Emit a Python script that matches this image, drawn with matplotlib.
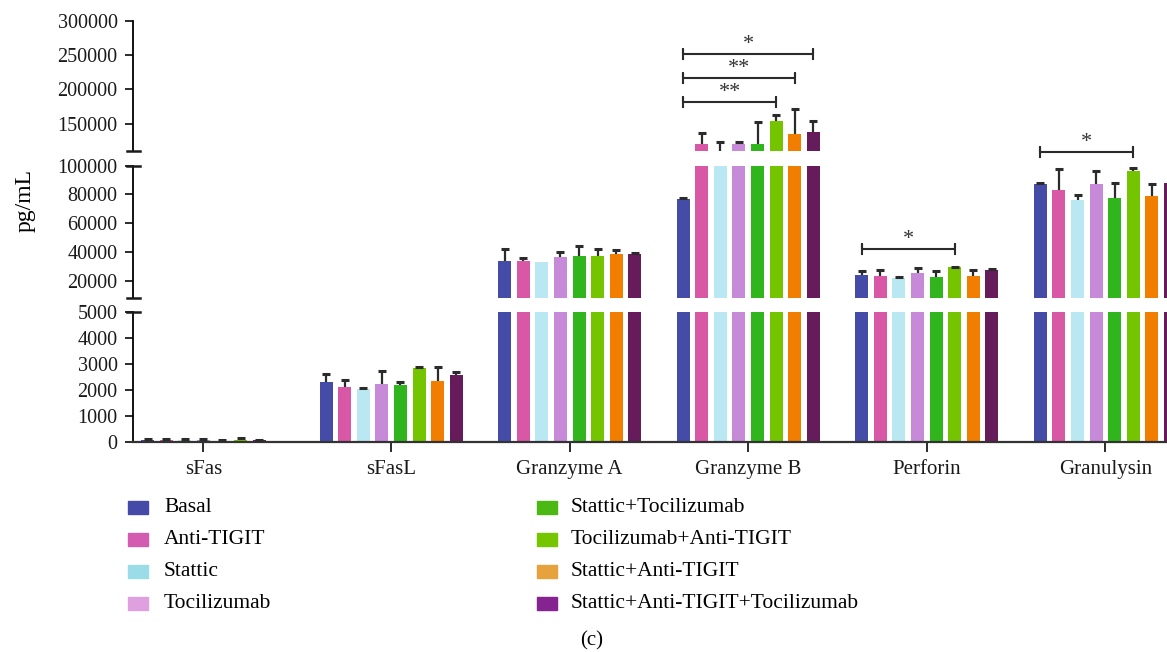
import numpy as np
import matplotlib.pyplot as plt
from matplotlib.patches import Rectangle
from matplotlib.lines import Line2D

plt.rcParams['font.family'] = ['Liberation Serif', 'DejaVu Serif']

cytokines = ['sFas', 'sFasL', 'Granzyme A', 'Granzyme B', 'Perforin', 'Granulysin']
groups = ['Basal', 'Anti-TIGIT', 'Stattic', 'Tocilizumab', 'Stattic+Tocilizumab',
          'Tocilizumab+Anti-TIGIT', 'Stattic+Anti-TIGIT', 'Stattic+Anti-TIGIT+Tocilizumab']

# means (pg/mL), same order as cytokines
basal = [75, 2310, 33700, 77000, 24000, 87300]
anti_tigit = [70, 2120, 33700, 121000, 23300, 83100]
stattic = [70, 2040, 33000, 109000, 21900, 76100]
tocilizumab = [75, 2230, 36500, 121000, 25400, 87300]
stattic_toci = [15, 2190, 37200, 121000, 22600, 77500]
toci_anti = [80, 2850, 37200, 154000, 29500, 96300]
stattic_anti = [np.nan, 2350, 38600, 135000, 23300, 78900]
triple = [65, 2580, 38600, 138000, 27400, 88000]

# upper error bars
basal_sd = [40, 320, 8000, 600, 3000, 500]
anti_tigit_sd = [30, 280, 2300, 15000, 4300, 14400]
stattic_sd = [30, 25, np.nan, 15000, 300, 3700]
tocilizumab_sd = [30, 500, 3500, 3000, 3600, 9200]
stattic_toci_sd = [60, 130, 7200, 32000, 4400, 10700]
toci_anti_sd = [85, 50, 4600, 8700, 300, 2100]
stattic_anti_sd = [np.nan, 540, 2500, 36000, 4300, 8600]
triple_sd = [20, 115, 300, 16000, 900, 1400]

means = [basal, anti_tigit, stattic, tocilizumab, stattic_toci, toci_anti, stattic_anti, triple]
sds = [basal_sd, anti_tigit_sd, stattic_sd, tocilizumab_sd, stattic_toci_sd, toci_anti_sd,
       stattic_anti_sd, triple_sd]

bar_colors = ['#454CA8', '#D858A6', '#BAE8F2', '#C78AD9', '#30B61C', '#74C400', '#F27E00', '#661B5A']
legend_colors = ['#4549A8', '#D45CB0', '#9ADDE9', '#DFA0DF', '#4BB814', '#75C500', '#E6A23C', '#852390']

# significance: (cytokine, group a, group b, label, bracket height)
sig = [('Granzyme B', 0, 7, '*', 252000),
       ('Granzyme B', 0, 6, '**', 217000),
       ('Granzyme B', 0, 5, '**', 182000),
       ('Perforin', 0, 5, '*', 42300),
       ('Granulysin', 0, 5, '*', 109500)]

W, H = 1167, 652
fig = plt.figure(figsize=(W / 100, H / 100), dpi=100)

# bar layout (units = one bar step)
G = 9.6
px_unit = 18.6
x_left = -0.78
x_right = 57
ax_w = (x_right - x_left) * px_unit

xpos = {}
for i, c in enumerate(cytokines):
    k = 0
    for j in range(len(groups)):
        if not np.isnan(means[j][i]):
            xpos[(i, j)] = i * G + k
            k += 1
centers = []
for i in range(len(cytokines)):
    xs = [xpos[(i, j)] for j in range(len(groups)) if (i, j) in xpos]
    centers.append((min(xs) + max(xs)) / 2)


def frac_axes(top_px, bot_px):
    return [133 / W, 1 - bot_px / H, ax_w / W, (bot_px - top_px) / H]


ax_top = fig.add_axes(frac_axes(20.7, 151.2))
ax_mid = fig.add_axes(frac_axes(165.7, 297.9))
ax_bot = fig.add_axes(frac_axes(312, 442))
ax_top.set_ylim(110000, 300000)
ax_mid.set_ylim(8000, 100000)
ax_bot.set_ylim(0, 5000)

for ax in (ax_top, ax_mid, ax_bot):
    ax.set_xlim(x_left, x_right)
    for j in range(len(groups)):
        xs, ys, es = [], [], []
        for i in range(len(cytokines)):
            if (i, j) in xpos:
                xs.append(xpos[(i, j)])
                ys.append(means[j][i])
                es.append(sds[j][i])
        xs, ys, es = np.array(xs), np.array(ys), np.array(es)
        ax.bar(xs, ys, width=0.7, color=bar_colors[j], zorder=2)
        ok = ~np.isnan(es)
        # upper-only error bars
        ax.vlines(xs[ok], ys[ok], ys[ok] + es[ok], color='#2b2b2b', lw=1.6, zorder=3)
        ax.plot(xs[ok], ys[ok] + es[ok], ls='none', marker='_', ms=6, mew=2.2,
                color='#2b2b2b', zorder=3)
    for s in ('top', 'right', 'bottom'):
        ax.spines[s].set_visible(False)
    ax.spines['left'].set_linewidth(1.3)
    ax.tick_params(axis='y', length=6, width=1.3, labelsize=14.5, pad=5, colors='#1a1a1a')
    ax.tick_params(axis='x', bottom=False, labelbottom=False)

ax_top.set_yticks([150000, 200000, 250000, 300000])
ax_mid.set_yticks([20000, 40000, 60000, 80000, 100000])
ax_bot.set_yticks(np.arange(0, 5001, 1000))

ax_bot.spines['bottom'].set_visible(True)
ax_bot.spines['bottom'].set_linewidth(1.6)
ax_bot.spines['bottom'].set_color('#333333')
ax_bot.set_xticks(centers)
ax_bot.set_xticklabels(cytokines)
ax_bot.tick_params(axis='x', bottom=True, labelbottom=True, length=7, width=1.3,
                   labelsize=15, pad=6, colors='#1a1a1a')

# break caps on the left spine
for y_px in (151.2, 165.7, 297.9, 312):
    fig.add_artist(Line2D([127 / W, 139.5 / W], [1 - y_px / H] * 2, color='#1a1a1a', lw=1.8))

# significance brackets
for name, a, b, label, yb in sig:
    i = cytokines.index(name)
    x1, x2 = xpos[(i, a)], xpos[(i, b)]
    ax = ax_top if yb > 110000 and name == 'Granzyme B' else ax_mid
    lo, hi = ax.get_ylim()
    tick = (hi - lo) / (ax.get_position().height * H) * 5
    ax.plot([x1, x1, x1, x2, x2, x2], [yb - tick, yb + tick, yb, yb, yb + tick, yb - tick],
            color='#2b2b2b', lw=1.5, clip_on=False, zorder=4)
    ax.annotate(label, ((x1 + x2) / 2, yb), xytext=(0, 0), textcoords='offset points',
                ha='center', va='bottom', fontsize=16, color='#333333', annotation_clip=False)

fig.text(25 / W, 1 - 201 / H, 'pg/mL', rotation=90, ha='center', va='center', fontsize=17)

# legend
rows = [507.5, 539.5, 571.5, 603.5]
for j, name in enumerate(groups):
    col, row = divmod(j, 4)
    px = 128 if col == 0 else 537
    tx = 164 if col == 0 else 571
    y = rows[row]
    fig.add_artist(Rectangle((px / W, 1 - (y + 6.5) / H), 20 / W, 13 / H,
                             transform=fig.transFigure, color=legend_colors[j]))
    fig.text(tx / W, 1 - y / H, name, ha='left', va='center', fontsize=15.5)

fig.text(592 / W, 1 - 641 / H, '(c)', ha='center', va='center', fontsize=15)

fig.savefig('out.png', dpi=100)
